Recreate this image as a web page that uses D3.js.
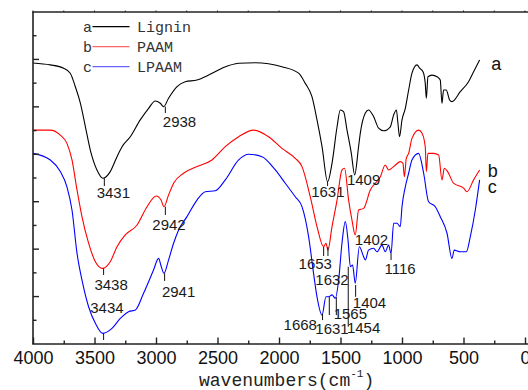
<!DOCTYPE html>
<html>
<head>
<meta charset="utf-8">
<script src="https://cdn.jsdelivr.net/npm/d3@7"></script>
<style>
html,body{margin:0;padding:0;background:#fff;overflow:hidden;}
svg{display:block;}
</style>
</head>
<body>
<svg id="chart" width="528" height="390"></svg>
<script>
// ---------- DATA ----------
const seriesNames = ["Lignin", "PAAM", "LPAAM"];
const seriesTags = ["a", "b", "c"];
const seriesColors = ["#000000", "#ff0000", "#0000ff"];

// wavenumbers (cm-1) and relative transmittance (arbitrary units, offset spectra)
const ligninWn = [4000,3859,3751,3697,3656,3615,3574,3534,3480,3431,3372,3317,3276,3209,3128,3060,3006,2965,2938,2898,2829,2762,2667,2572,2463,2328,2193,1976,1841,1786,1732,1691,1650,1605,1569,1528,1502,1475,1447,1412,1385,1353,1339,1298,1272,1231,1190,1150,1095,1068,1046,1033,1020,1000,973,946,919,878,857,829,811,802,789,756,715,689,675,662,640,613,594,526,459,418,369];
const ligninT  = [118.5,117.7,116.3,114.2,108.5,101.6,91.6,81.8,73.4,69.9,72.7,79.0,83.2,87.4,94.5,99.4,102.5,101.5,100.1,103.6,108.5,110.6,111.3,113.4,116.3,118.4,118.6,116.9,114.2,109.9,104.3,94.5,83.2,68.4,76.2,91.6,98.7,98.0,90.2,80.4,71.3,83.2,88.9,97.4,98.7,95.9,91.0,89.9,91.6,96.6,98.7,93.1,87.4,94.5,99.4,107.1,114.2,117.7,116.3,114.8,109.9,103.6,112.7,113.4,112.7,111.3,101.5,107.1,107.1,102.9,102.2,106.4,110.6,114.8,119.8];

const paamWn = [4000,3859,3778,3724,3683,3642,3602,3548,3493,3435,3372,3317,3250,3154,3073,2998,2959,2935,2898,2857,2776,2667,2545,2437,2328,2207,2085,1976,1868,1813,1746,1691,1637,1618,1602,1569,1528,1488,1467,1434,1407,1380,1353,1312,1258,1176,1136,1109,1068,1014,992,981,965,946,919,865,837,811,802,789,743,702,675,656,629,581,499,472,418,369];
const paamT  = [90.2,90.2,88.1,84.6,77.6,64.9,53.7,42.5,34.7,31.9,34.7,41.0,46.0,50.2,57.9,62.4,60.7,57.9,62.8,67.8,72.0,74.8,77.6,83.2,87.4,90.2,87.4,82.5,78.3,74.8,62.1,49.5,41.0,42.5,39.6,49.5,60.7,73.4,74.1,60.7,52.3,46.0,56.5,57.2,64.9,70.5,75.5,73.4,74.8,76.9,76.2,70.5,78.3,80.4,86.7,90.2,88.9,83.2,72.7,80.4,80.4,79.7,69.2,74.1,72.7,67.8,65.7,64.2,69.2,73.4];

const lpaamWn = [4000,3859,3778,3724,3683,3642,3602,3548,3493,3434,3358,3290,3223,3168,3101,3020,2979,2957,2935,2898,2857,2816,2748,2667,2599,2518,2437,2328,2247,2138,2030,1949,1868,1813,1759,1719,1691,1650,1618,1597,1569,1542,1515,1488,1461,1439,1420,1402,1380,1347,1312,1298,1272,1231,1203,1163,1136,1109,1089,1068,1041,1014,1000,973,946,919,865,824,784,729,689,634,594,575,526,477,445,404,369];
const lpaamT  = [80.4,77.6,72.7,66.3,56.5,38.2,27.0,15.7,8.7,4.5,6.6,10.8,13.6,14.3,21.4,31.2,36.1,32.6,29.8,35.4,42.5,48.1,53.7,60.7,64.2,64.6,69.2,77.6,80.0,79.0,73.4,67.8,62.1,57.9,45.2,29.8,19.9,12.2,19.9,19.9,20.7,19.3,27.0,42.5,51.6,43.9,32.6,33.3,25.6,41.0,36.8,35.4,39.6,40.4,38.9,41.7,38.9,41.7,38.2,50.9,50.9,49.5,57.9,66.3,72.0,77.6,80.4,72.0,60.0,57.9,53.7,46.7,36.1,39.6,38.9,38.9,45.2,56.5,69.2];

// x axis ticks
const xMajorTicks = [4000,3500,3000,2500,2000,1500,1000,500,0];
const xMinorTicks = [3750,3250,2750,2250,1750,1250,750,250];
const xTitle = "wavenumbers(cm";
const xTitleSup = "-1";

// peak annotations: text, tick wavenumber, tick top/bottom value, label centre wavenumber, label baseline value
const peakText   = ["3431","2938","1631","1409","3438","2942","1653","1632","3434","2941","1668","1631","1565","1454","1404","1402","1116"];
const peakTickWn = [3420,2924,1605,null,3426,2924,1637,1602,3426,2930,1646,1591,1534,1437,1377,null,1089];
const peakTickV0 = [69.9,100.1,68.4,null,31.9,57.9,40.9,40.9,4.5,29.8,12.7,19.8,19.8,32.6,24.9,null,38.2];
const peakTickV1 = [66.6,97.4,66.6,null,29.1,54.4,37.1,37.1,1.7,26.6,10.1,12.2,12.2,7.3,19.9,null,35.4];
const peakLabelWn = [3347,2809,1603,1312,3365,2894,1705,1569,3399,2816,1827,1569,1420,1312,1264,1248,1016];
const peakLabelV  = [61.6,91.6,62.1,67.0,22.8,48.1,31.8,24.9,12.9,19.9,5.9,4.2,10.5,4.5,15.1,41.7,29.4];

// series end tags (a, b, c)
const tagWn = [274,302,302];
const tagV  = [115.5,70.5,63.5];

// ---------- CHART ----------
const svg = d3.select("#chart");
const mLeft = 33, mRight = 525, mTop = 12, mBottom = 344;
const x = d3.scaleLinear().domain([4000, 0]).range([mLeft, mRight]);
const y = d3.scaleLinear().domain([0, 140]).range([mBottom, mTop]);

const axisColor = "#222";

// spectra
const series = [
  {wn: ligninWn, t: ligninT},
  {wn: paamWn, t: paamT},
  {wn: lpaamWn, t: lpaamT}
];
const line = d3.line().x(d => x(d[0])).y(d => y(d[1])).curve(d3.curveMonotoneX);
series.forEach((s, i) => {
  const pts = s.wn.map((w, j) => [w, s.t[j]]);
  svg.append("path")
    .attr("d", line(pts))
    .attr("fill", "none")
    .attr("stroke", seriesColors[i])
    .attr("stroke-width", 1.1)
    .attr("stroke-linejoin", "round");
});

// frame
svg.append("line").attr("x1", mLeft).attr("x2", mLeft).attr("y1", mTop).attr("y2", mBottom)
  .attr("stroke", axisColor).attr("stroke-width", 1.6);
svg.append("line").attr("x1", mLeft - 0.8).attr("x2", 545).attr("y1", mBottom).attr("y2", mBottom)
  .attr("stroke", axisColor).attr("stroke-width", 1.6);
svg.append("line").attr("x1", mLeft - 0.8).attr("x2", 545).attr("y1", mTop).attr("y2", mTop)
  .attr("stroke", axisColor).attr("stroke-width", 1.4);

// x axis (bottom) via d3 axis
const xAxisMajor = d3.axisBottom(x).tickValues(xMajorTicks).tickSize(-6.5).tickPadding(10).tickFormat(d3.format("d"));
const gx = svg.append("g").attr("transform", `translate(0,${mBottom})`).call(xAxisMajor);
gx.select(".domain").remove();
gx.selectAll(".tick line").attr("stroke", axisColor).attr("stroke-width", 1.4);
gx.selectAll(".tick text")
  .attr("font-family", "'Liberation Sans', Arial, sans-serif")
  .attr("font-size", 18).attr("fill", "#111").attr("y", 7).attr("dy", "0.71em");
const xAxisMinor = d3.axisBottom(x).tickValues(xMinorTicks).tickSize(-3.5).tickFormat("");
const gxm = svg.append("g").attr("transform", `translate(0,${mBottom})`).call(xAxisMinor);
gxm.select(".domain").remove();
gxm.selectAll(".tick line").attr("stroke", axisColor).attr("stroke-width", 1.4);

// top tiny ticks
const topTicks = xMajorTicks.concat(xMinorTicks);
svg.append("g").selectAll("line").data(topTicks).join("line")
  .attr("x1", d => x(d)).attr("x2", d => x(d))
  .attr("y1", mTop).attr("y2", mTop - 1.5)
  .attr("stroke", axisColor).attr("stroke-width", 1);

// y axis ticks (no labels)
const yTicks = d3.range(10, 140, 10);
svg.append("g").selectAll("line").data(yTicks).join("line")
  .attr("x1", mLeft).attr("x2", d => mLeft + ((d / 10) % 2 === 0 ? 6 : 3.5))
  .attr("y1", d => y(d)).attr("y2", d => y(d))
  .attr("stroke", axisColor).attr("stroke-width", 1.4);

// x title
const title = svg.append("text")
  .attr("x", 199).attr("y", 386)
  .attr("font-family", "'Liberation Mono', 'Courier New', monospace")
  .attr("font-size", 18).attr("fill", "#222");
title.append("tspan").text(xTitle);
title.append("tspan").attr("font-size", 11).attr("dy", -9).text(xTitleSup);
title.append("tspan").attr("font-size", 18).attr("dy", 9).text(")");

// peak ticks and labels
const labelFont = "'Liberation Sans', Arial, sans-serif";
peakText.forEach((t, i) => {
  if (peakTickWn[i] !== null) {
    svg.append("line")
      .attr("x1", x(peakTickWn[i])).attr("x2", x(peakTickWn[i]))
      .attr("y1", y(peakTickV0[i])).attr("y2", y(peakTickV1[i]))
      .attr("stroke", "#111").attr("stroke-width", 1);
  }
  svg.append("text")
    .attr("x", x(peakLabelWn[i])).attr("y", y(peakLabelV[i]))
    .attr("text-anchor", "middle")
    .attr("font-family", labelFont).attr("font-size", 15)
    .attr("fill", "#1a1a1a").text(t);
});

// series tags a b c
seriesTags.forEach((t, i) => {
  svg.append("text")
    .attr("x", x(tagWn[i])).attr("y", y(tagV[i]))
    .attr("font-family", labelFont).attr("font-size", 18)
    .attr("fill", "#111").text(t);
});

// legend
const legend = svg.append("g");
seriesNames.forEach((n, i) => {
  const ly = 26.7 + i * 20;
  legend.append("text").attr("x", 83).attr("y", ly + 5)
    .attr("font-family", "'Liberation Mono', 'Courier New', monospace")
    .attr("font-size", 15).attr("fill", "#333").text(seriesTags[i]);
  legend.append("line").attr("x1", 92.5).attr("x2", 129.5).attr("y1", ly).attr("y2", ly)
    .attr("stroke", seriesColors[i]).attr("stroke-width", 1.3)
    .attr("stroke-opacity", i === 0 ? 1 : 0.6);
  legend.append("text").attr("x", 137).attr("y", ly + 5.5)
    .attr("font-family", "'Liberation Mono', 'Courier New', monospace")
    .attr("font-size", 15).attr("fill", "#333").text(n);
});
</script>
</body>
</html>
